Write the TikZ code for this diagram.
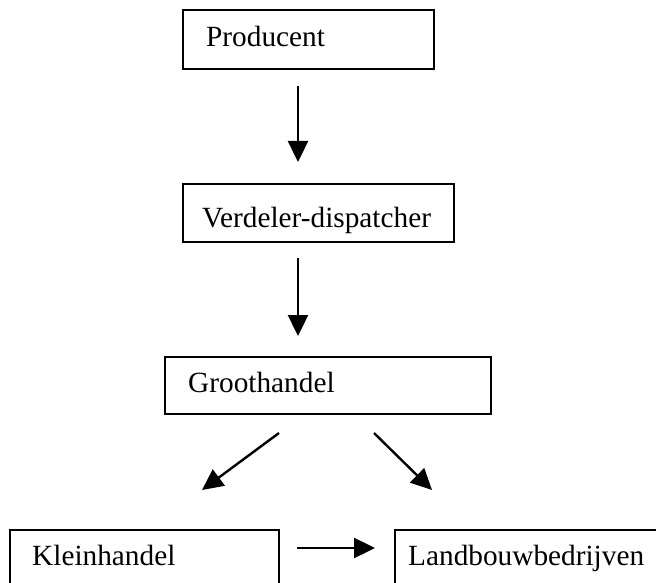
\documentclass[tikz,border=0pt]{standalone}
\usepackage{fontspec}
\setmainfont{Liberation Serif}
\usetikzlibrary{arrows.meta}
\begin{document}
\begin{tikzpicture}[x=1pt,y=-1pt,
  box/.style={draw=black, line width=2.1pt, inner sep=0pt, anchor=north west},
  lbl/.style={anchor=base west, inner sep=0pt, font=\fontsize{29.3}{34}\selectfont},
  arr/.style={line width=2.4pt, -{Triangle[length=21pt,width=20pt]}}]
\useasboundingbox (0,0) rectangle (656,583);
% boxes
\node[box, minimum width=251pt, minimum height=59pt] (prod) at (182,9) {};
\node[box, minimum width=271pt, minimum height=58pt] (verd) at (182,183) {};
\node[box, minimum width=326pt, minimum height=57pt] (groot) at (164,356) {};
\node[box, minimum width=269pt, minimum height=80pt] (klein) at (9,529) {};
\node[box, minimum width=300pt, minimum height=80pt] (land) at (394,529) {};
% texts
\node[lbl] (prodt) at (206,47) {Producent};
\node[lbl] (verdt) at (202,227) {Verdeler-dispatcher};
\node[lbl] (groott) at (188,392) {Groothandel};
\node[lbl] (kleint) at (32,565) {Kleinhandel};
\node[lbl] (landt) at (408,565) {Landbouwbedrijven};
% arrow end points
\coordinate (a1s) at (298,86);  \coordinate (a1e) at (298,162);
\coordinate (a2s) at (298,258); \coordinate (a2e) at (298,336);
\coordinate (a3s) at (279,433); \coordinate (a3e) at (202,490);
\coordinate (a4s) at (374,433); \coordinate (a4e) at (432,490);
\coordinate (a5s) at (297,548); \coordinate (a5e) at (375,548);
\draw[arr] (a1s) -- (a1e);
\draw[arr] (a2s) -- (a2e);
\draw[arr] (a3s) -- (a3e);
\draw[arr] (a4s) -- (a4e);
\draw[arr] (a5s) -- (a5e);
\end{tikzpicture}
\end{document}
